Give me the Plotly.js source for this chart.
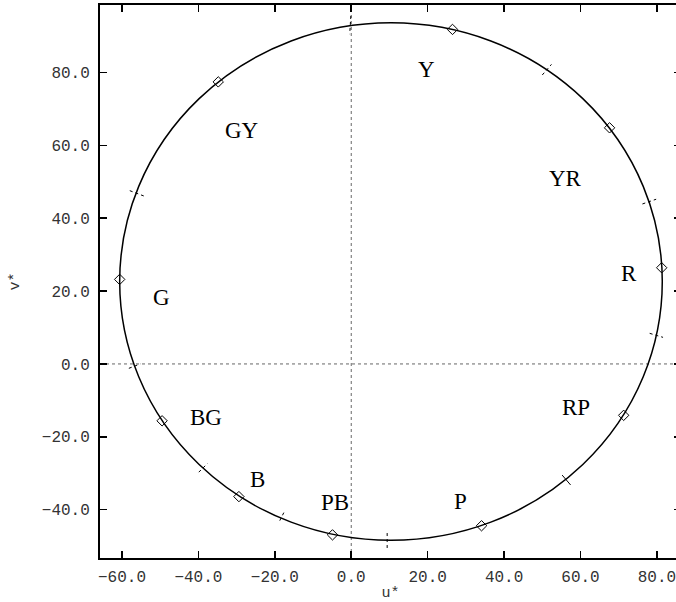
<!DOCTYPE html>
<html>
<head>
<meta charset="utf-8">
<script src="https://cdn.plot.ly/plotly-3.0.1.min.js"></script>
<style>
html,body{margin:0;padding:0;overflow:hidden;background:#fff;}
#chart{width:690px;height:602px;}
</style>
</head>
<body>
<div id="chart"></div>
<script>
// Hue sample points (u*, v*)
var hueNames = ["Y","YR","R","RP","P","PB","B","BG","G","GY"];
var markerU = [26.5, 67.6, 81.25, 71.3, 34.1, -4.9, -29.4, -49.5, -60.6, -34.8];
var markerV = [91.8, 64.8, 26.4, -14.1, -44.4, -46.9, -36.4, -15.6, 23.2, 77.4];

// Hue label positions
var labelU = [19.7, 56.2, 72.7, 58.8, 28.5, -4.2, -24.6, -38.0, -49.7, -28.5];
var labelV = [80.7, 50.8, 24.7, -11.9, -37.7, -37.9, -31.6, -14.8, 18.1, 64.0];

// Hue boundary tick segments (start / end)
var boundU0 = [-0.1, 50.0, 76.2, 78.1, 9.4, -18.7, -39.9, -58.2, -57.96];
var boundV0 = [95.5, 79.3, 43.9, 8.4, -46.4, -43.0, -29.7, -1.2, 47.55];
var boundU1 = [-0.4, 52.4, 79.8, 81.6, 9.4, -17.5, -37.6, -55.2, -54.3];
var boundV1 = [90.5, 82.2, 45.2, 7.3, -50.5, -40.5, -27.3, 0.0, 46.1];
// solid boundary (RP|P)
var solidU = [55.2, 57.4];
var solidV = [-30.5, -33.2];

// Hue circle (center and radius)
var circleCenter = [10.4, 22.6];
var circleRadius = 71.0;

var tickValsX = [-60, -40, -20, 0, 20, 40, 60, 80];
var tickValsY = [-40, -20, 0, 20, 40, 60, 80];

var bx = [], by = [];
for (var i = 0; i < boundU0.length; i++) {
  bx.push(boundU0[i], boundU1[i], null);
  by.push(boundV0[i], boundV1[i], null);
}

var traces = [
  {x: bx, y: by, mode: 'lines', line: {color: '#000', width: 1, dash: '3px,3px'}, hoverinfo: 'skip', showlegend: false},
  {x: solidU, y: solidV, mode: 'lines', line: {color: '#000', width: 1}, hoverinfo: 'skip', showlegend: false},
  {x: markerU, y: markerV, mode: 'markers', marker: {symbol: 'diamond-open', size: 8, color: '#000', line: {width: 1, color: '#000'}}, text: hueNames, showlegend: false}
];

var annotations = hueNames.map(function(n, i){
  return {x: labelU[i], y: labelV[i], xref: 'x', yref: 'y', text: n, showarrow: false,
    font: {family: 'Liberation Serif, Times New Roman, serif', size: 23, color: '#000'}};
});

var tickFont = {family: 'Liberation Mono, Courier New, monospace', size: 16, color: '#333'};

var layout = {
  width: 690, height: 602,
  margin: {l: 100, r: 9, t: 5, b: 44},
  paper_bgcolor: '#fff', plot_bgcolor: '#fff',
  showlegend: false,
  xaxis: {
    range: [-65.75, 86.3], tickvals: tickValsX, tickformat: '.1f',
    ticks: 'inside', ticklen: 7, tickwidth: 1.5, tickcolor: '#000',
    showline: true, linewidth: 2, linecolor: '#000', mirror: 'ticks',
    showgrid: false, zeroline: false, tickfont: tickFont, ticklabelstandoff: 3,
    title: {text: 'u*', font: {family: 'Liberation Mono, Courier New, monospace', size: 15, color: '#333'}, standoff: 1}
  },
  yaxis: {
    range: [-53.25, 98.5], tickvals: tickValsY, tickformat: '.1f',
    ticks: 'inside', ticklen: 7, tickwidth: 1.5, tickcolor: '#000',
    showline: true, linewidth: 2, linecolor: '#000', mirror: 'ticks',
    showgrid: false, zeroline: false, tickfont: tickFont, ticklabelstandoff: 5,
    title: {text: 'v*', font: {family: 'Liberation Mono, Courier New, monospace', size: 15, color: '#333'}, standoff: 19}
  },
  shapes: [
    {type: 'line', xref: 'x', yref: 'paper', x0: 0, x1: 0, y0: 0, y1: 1, line: {color: '#666', width: 1, dash: 'dot'}, layer: 'below'},
    {type: 'line', xref: 'paper', yref: 'y', x0: 0, x1: 1, y0: 0, y1: 0, line: {color: '#666', width: 1, dash: 'dot'}, layer: 'below'},
    {type: 'circle', xref: 'x', yref: 'y',
     x0: circleCenter[0] - circleRadius, x1: circleCenter[0] + circleRadius,
     y0: circleCenter[1] - circleRadius, y1: circleCenter[1] + circleRadius,
     line: {color: '#000', width: 1.5}}
  ],
  annotations: annotations
};

Plotly.newPlot('chart', traces, layout, {staticPlot: true});
</script>
</body>
</html>
